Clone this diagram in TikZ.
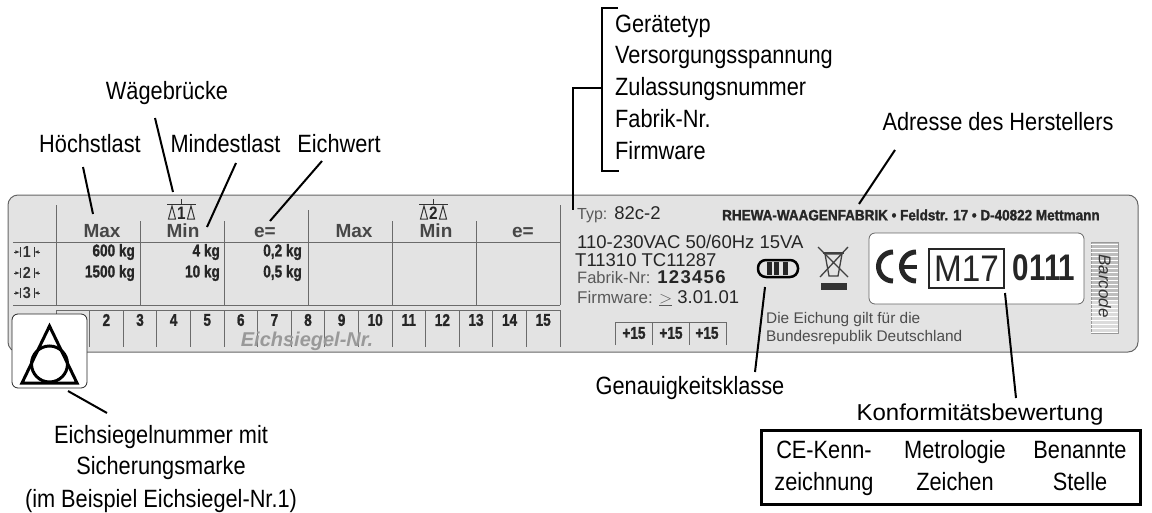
\documentclass[tikz,border=0pt]{standalone}
\usepackage{fontspec}
\setmainfont{Liberation Sans}
\newfontfamily\heavyfont[BoldFeatures={FakeBold=1.5}]{Liberation Sans}
\tikzset{
  lbl/.style={inner sep=0pt, anchor=base, xscale=0.87, font=\fontsize{25}{30}\selectfont},
  leader/.style={line width=2pt, black},
  rule/.style={line width=1pt, black!58},
  heavy/.style={inner sep=0pt, xscale=0.8, text=black!85, font=\fontsize{17}{19}\selectfont\heavyfont\bfseries},
  platetxt/.style={inner sep=0pt, anchor=west, text=black!85, font=\fontsize{18.5}{20}\selectfont},
  head/.style={inner sep=0pt, anchor=base, text=black!72, font=\fontsize{19}{21}\selectfont\bfseries},
}
\newcommand{\balance}[3]{
  \draw [line width=1pt, black!80] (#1,204) -- (#1+29,204) (#1+14.5,199) -- (#1+14.5,204);
  \draw [line width=1pt, black!80] (#1+5,206) -- (#1+1.5,219) -- (#1+8.5,219) -- cycle;
  \draw [line width=1pt, black!80] (#1+24,206) -- (#1+20.5,219) -- (#1+27.5,219) -- cycle;
  \node (#2) at (#1+14.5,213) [inner sep=0pt, xscale=0.85, text=black!85, font=\fontsize{18}{18}\selectfont\bfseries] {#3};
}
\newcommand{\platerow}[3]{
  \node (#1) at (27,#2) [inner sep=0pt, xscale=0.9, text=black!80, font=\fontsize{16}{16}\selectfont\bfseries] {#3};
  \draw [line width=0.6pt, black!80, -latex] (14,#2) -- (20,#2);
  \draw [line width=0.6pt, black!80, -latex] (40,#2) -- (34,#2);
  \draw [line width=0.8pt, black!80] (20,#2-5) -- (20,#2+5) (34,#2-5) -- (34,#2+5);
}
\begin{document}
\begin{tikzpicture}[x=1pt, y=-1pt]
\useasboundingbox (0,0) rectangle (1152,512);
% plate
\draw [rounded corners=10pt, fill=black!11, draw=black!60, line width=1pt] (8,195) rectangle (1138,352);
% table
\foreach \xa/\ya in {56/205, 140/221, 224/221, 308/210, 392/221, 476/221, 560/205}
  \draw [rule] (\xa,\ya) -- (\xa,305);
\draw [rule] (13,242) -- (560,242);
\draw [rule] (13,305) -- (560,305);
\draw [rule] (56,310) -- (560,310);
\foreach \n in {0,...,15}
  \draw [rule] (56+33.6*\n,310) -- (56+33.6*\n,347);
\foreach \n in {2,...,15}
  \node (seal\n) at (56+33.6*\n-16.8,320) [heavy] {\n};
\node (sealtxt) at (307,341) [inner sep=0pt, text=black!40, font=\fontsize{20}{22}\selectfont\bfseries\itshape] {Eichsiegel-Nr.};
\node (maxa) at (102,237) [head] {Max};
\node (mina) at (183,237) [head] {Min};
\node (ea) at (265,237) [head] {e=};
\node (maxb) at (354,237) [head] {Max};
\node (minb) at (436,237) [head] {Min};
\node (eb) at (523,237) [head] {e=};
\balance{167}{bala}{1}
\balance{419}{balb}{2}
\platerow{rowa}{252}{1}
\platerow{rowb}{273}{2}
\platerow{rowc}{293}{3}
\node (va) at (135,252) [heavy, anchor=east] {600 kg};
\node (vb) at (135,273) [heavy, anchor=east] {1500 kg};
\node (vc) at (220,252) [heavy, anchor=east] {4 kg};
\node (vd) at (220,273) [heavy, anchor=east] {10 kg};
\node (ve) at (302,252) [heavy, anchor=east] {0,2 kg};
\node (vf) at (302,273) [heavy, anchor=east] {0,5 kg};
% right half of the plate
\node (typ) at (577,215) [platetxt] {{\fontsize{16}{18}\selectfont\color{black!65}Typ:} 82c-2};
\node (addr) at (722,215) [inner sep=0pt, anchor=west, xscale=0.9, text=black!85, font=\fontsize{15}{17}\selectfont\heavyfont\bfseries] {RHEWA-WAAGENFABRIK • Feldstr. 17 • D-40822 Mettmann};
\node (volt) at (577,242) [platetxt] {110-230VAC 50/60Hz 15VA};
\node (tnr) at (575,260) [platetxt] {T11310 TC11287};
\node (fab) at (577,277) [platetxt] {{\fontsize{16.5}{18}\selectfont\color{black!65}Fabrik-Nr:} \bfseries\addfontfeature{LetterSpace=7}123456};
\node (fw) at (577,298) [platetxt] {{\fontsize{17}{18}\selectfont\color{black!65}Firmware: $\underline{>}$} 3.01.01};
\draw [rule] (615,345) -- (615,322) -- (726,322) -- (726,345) (652,322) -- (652,345) (689,322) -- (689,345);
\node (pa) at (634,333) [heavy] {+15};
\node (pb) at (671,333) [heavy] {+15};
\node (pc) at (707,333) [heavy] {+15};
\node (gilt) at (766,320) [platetxt, font=\fontsize{15.4}{17}\selectfont, text=black!70] {Die Eichung gilt für die};
\node (land) at (766,338) [platetxt, font=\fontsize{15.4}{17}\selectfont, text=black!70] {Bundesrepublik Deutschland};
% class symbol
\draw [line width=2.5pt, rounded corners=8pt, black] (758,260) rectangle (798,277);
\foreach \xa in {769.5,776.5,785.5}
  \fill [black!85] (\xa-2.5,262) rectangle (\xa+2.5,274.5);
% bin
\draw [line width=1.3pt, black!75] (818,247) -- (848,277) (848,247) -- (820,277);
\draw [line width=1.3pt, black!75] (825,254) -- (829,276) -- (838,276) -- (842,254) -- cycle;
\draw [line width=1.3pt, black!75] (823,253) -- (844,253);
\fill [black!80] (821,283) rectangle (847,290);
% white field
\draw [rounded corners=6pt, fill=white, draw=black!60, line width=0.8pt] (869,233) rectangle (1084,304);
\draw [line width=5pt, black!85] (893,252) arc [start angle=90, end angle=270, radius=14.5pt];
\draw [line width=5pt, black!85] (916,252) arc [start angle=90, end angle=270, radius=14.5pt];
\draw [line width=4pt, black!85] (900,266.5) -- (917,266.5);
\node (mbox) at (966.5,268.5) [draw=black!85, line width=1.5pt, inner sep=0pt, minimum width=75pt, minimum height=39pt] {};
\node (mtxt) at (mbox.center) [inner sep=0pt, xscale=0.9, text=black!85, font=\fontsize{37}{37}\selectfont] {M17};
\node (nb) at (1044,268) [inner sep=0pt, xscale=0.8, text=black!85, font=\fontsize{37}{37}\selectfont\bfseries] {0111};
% barcode
\fill [black!26] (1091,242) rectangle (1118,300);
\fill [black!14] (1091,300) rectangle (1118,333);
\draw [black!40, line width=0.6pt] (1091,242) rectangle (1118,333);
\foreach \n in {0,...,22}
  \draw [white, line width=0.7pt] (1091,244+4*\n) -- (1118,244+4*\n);
\node (bar) at (1105,286) [rotate=-90, inner sep=0pt, text=black!80, font=\fontsize{17}{17}\selectfont\itshape] {Barcode};
% seal mark
\node (mark) at (49.5,351) [draw=black!85, fill=white, rounded corners=6pt, line width=0.8pt, minimum width=75pt, minimum height=74pt, inner sep=0pt] {};
\draw [line width=3pt, miter limit=10] (49.5,326) -- (22,383) -- (77,383) -- cycle;
\draw [line width=3pt] (49.5,364) circle (18);
% labels
\node (hoechst) at (90,152) [lbl] {Höchstlast};
\node (waege) at (167,99) [lbl] {Wägebrücke};
\node (mind) at (225.5,152) [lbl] {Mindestlast};
\node (eich) at (339,152) [lbl] {Eichwert};
\node (geraet) at (615,32) [lbl, anchor=base west] {Gerätetyp};
\node (vers) at (615,63) [lbl, anchor=base west] {Versorgungsspannung};
\node (zul) at (615,95) [lbl, anchor=base west] {Zulassungsnummer};
\node (fabrik) at (615,127) [lbl, anchor=base west] {Fabrik-Nr.};
\node (firm) at (615,159) [lbl, anchor=base west] {Firmware};
\node (adresse) at (998,130) [lbl] {Adresse des Herstellers};
\node (genau) at (690,394) [lbl] {Genauigkeitsklasse};
\node (konf) at (980,420) [lbl, xscale=1.2, font=\fontsize{23}{26}\selectfont] {Konformitätsbewertung};
\node (sga) at (161,443) [lbl] {Eichsiegelnummer mit};
\node (sgb) at (161,474) [lbl] {Sicherungsmarke};
\node (sgc) at (161,507) [lbl] {(im Beispiel Eichsiegel-Nr.1)};
\node (kbox) at (951,467.5) [draw=black, line width=3pt, minimum width=379pt, minimum height=74pt, inner sep=0pt] {};
\node (kcea) at (824,458) [lbl] {CE-Kenn-};
\node (kceb) at (824,490) [lbl] {zeichnung};
\node (kma) at (955,458) [lbl] {Metrologie};
\node (kmb) at (955,490) [lbl] {Zeichen};
\node (kba) at (1080,458) [lbl] {Benannte};
\node (kbb) at (1080,490) [lbl] {Stelle};
% free ends of the leaders
\coordinate (pmax) at (93,214);
\coordinate (pbal) at (173,192);
\coordinate (pmin) at (207,227);
\coordinate (pe) at (270,221);
\coordinate (padr) at (859,204);
\coordinate (pcl) at (765,287);
\coordinate (pm) at (1005,293);
\coordinate (pkl) at (1016,398);
\coordinate (pcla) at (755,372);
\coordinate (pmk) at (68,391);
\coordinate (psg) at (107,413);
\coordinate (pha) at (83,167);
\coordinate (pwa) at (155,118);
\coordinate (pmi) at (236,163);
\coordinate (pei) at (322,161);
\coordinate (pad) at (895,150);
\draw [leader] (pha) -- (pmax);
\draw [leader] (pwa) -- (pbal);
\draw [leader] (pmi) -- (pmin);
\draw [leader] (pei) -- (pe);
\draw [leader] (pad) -- (padr);
\draw [leader] (pcl) -- (pcla);
\draw [leader] (pm) -- (pkl);
\draw [leader] (pmk) -- (psg);
% bracket
\coordinate (bra) at (618,8);
\coordinate (brb) at (619,171);
\coordinate (brc) at (602,88);
\coordinate (brd) at (573,210);
\draw [line width=2.5pt] (bra) -- (602,8) -- (602,171) -- (brb);
\draw [line width=2.5pt] (brc) -- (573,88) -- (brd);
\end{tikzpicture}
\end{document}
